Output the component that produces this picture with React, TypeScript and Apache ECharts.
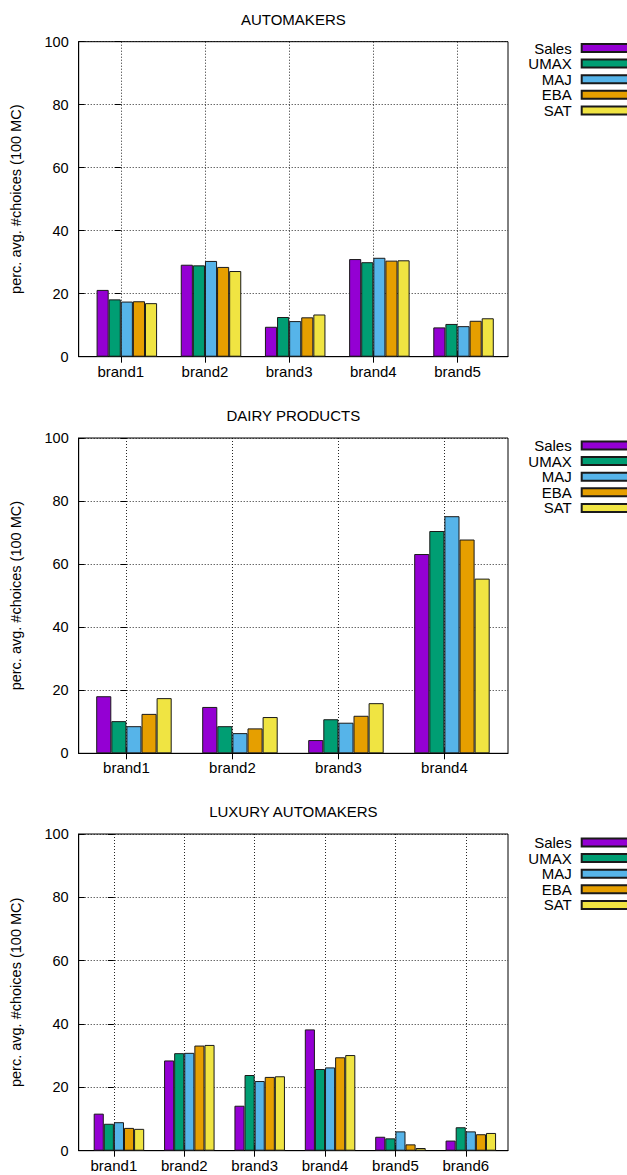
import React, { useEffect, useRef } from 'react';
import * as echarts from 'echarts';

// ---------- data ----------
const SERIES_NAMES = ['Sales', 'UMAX', 'MAJ', 'EBA', 'SAT'];
const COLORS = ['#9400d3', '#009e73', '#56b4e9', '#e69f00', '#f0e442'];
const Y_TICKS_MAX = 100;

const autoBrands = ['brand1', 'brand2', 'brand3', 'brand4', 'brand5'];
const autoSales = [21.2, 29.2, 9.5, 31.0, 9.3];
const autoUmax = [18.2, 29.0, 12.6, 30.0, 10.4];
const autoMaj = [17.5, 30.4, 11.3, 31.4, 9.7];
const autoEba = [17.6, 28.5, 12.5, 30.5, 11.4];
const autoSat = [17.0, 27.2, 13.4, 30.6, 12.2];

const dairyBrands = ['brand1', 'brand2', 'brand3', 'brand4'];
const dairySales = [18.1, 14.7, 4.2, 63.2];
const dairyUmax = [10.2, 8.6, 10.8, 70.5];
const dairyMaj = [8.6, 6.4, 9.7, 75.2];
const dairyEba = [12.5, 7.9, 11.9, 67.8];
const dairySat = [17.5, 11.5, 15.9, 55.4];

const luxBrands = ['brand1', 'brand2', 'brand3', 'brand4', 'brand5', 'brand6'];
const luxSales = [11.7, 28.5, 14.2, 38.3, 4.4, 3.2];
const luxUmax = [8.5, 30.8, 23.9, 25.8, 3.9, 7.4];
const luxMaj = [9.0, 30.9, 22.0, 26.3, 6.1, 6.1];
const luxEba = [7.2, 33.2, 23.3, 29.5, 2.0, 5.2];
const luxSat = [6.9, 33.4, 23.5, 30.2, 0.85, 5.6];

const titles = ['AUTOMAKERS', 'DAIRY PRODUCTS', 'LUXURY AUTOMAKERS'];
const Y_NAME = 'perc. avg. #choices (100 MC)';

// ---------- layout / style ----------
const FONT = '"Liberation Sans", Arial, Helvetica, sans-serif';
const panels = [
  { title: titles[0], cats: autoBrands, values: [autoSales, autoUmax, autoMaj, autoEba, autoSat], top: 41.7, height: 315, xMin: -0.5, xMax: 4.6, barWidth: 12.1, titleY: 19, legendTop: 40.5 },
  { title: titles[1], cats: dairyBrands, values: [dairySales, dairyUmax, dairyMaj, dairyEba, dairySat], top: 438, height: 315.3, xMin: -0.45, xMax: 3.6, barWidth: 15.1, titleY: 415, legendTop: 438 },
  { title: titles[2], cats: luxBrands, values: [luxSales, luxUmax, luxMaj, luxEba, luxSat], top: 834, height: 316.7, xMin: -0.5, xMax: 5.6, barWidth: 10.1, titleY: 811, legendTop: 835 },
];
const GRID_LEFT = 78.7;
const GRID_RIGHT = 627 - 508;
const PLOT_CENTER_X = (78.7 + 508) / 2;

function buildOption() {
  const dotted = { color: '#000', width: 1, type: [1, 2] as any, opacity: 0.85 };
  const grid: any[] = [];
  const xAxis: any[] = [];
  const yAxis: any[] = [];
  const series: any[] = [];
  const legend: any[] = [];
  const graphic: any[] = [];

  panels.forEach((p, g) => {
    const idx = p.cats.map((_, i) => i);
    grid.push({
      left: GRID_LEFT, right: GRID_RIGHT, top: p.top, height: p.height,
      show: true, borderColor: '#000', borderWidth: 1, backgroundColor: 'transparent',
    });
    xAxis.push({
      type: 'value', gridIndex: g, min: p.xMin, max: p.xMax, position: 'bottom',
      axisLine: { show: true, onZero: false, lineStyle: { color: '#000', width: 1 } },
      axisTick: { show: true, inside: true, length: 6, customValues: idx, lineStyle: { color: '#000' } },
      axisLabel: {
        customValues: idx, formatter: (v: number) => p.cats[Math.round(v)] ?? '',
        color: '#000', fontSize: 15, fontFamily: FONT, margin: 7,
      },
      splitLine: { show: true, lineStyle: dotted },
    });
    xAxis.push({
      type: 'value', gridIndex: g, min: p.xMin, max: p.xMax, position: 'top',
      axisLine: { show: false },
      axisTick: { show: true, inside: true, length: 6, customValues: idx, lineStyle: { color: '#000' } },
      axisLabel: { show: false },
      splitLine: { show: false },
    });
    yAxis.push({
      type: 'value', gridIndex: g, min: 0, max: Y_TICKS_MAX, interval: 20, position: 'left',
      name: Y_NAME, nameLocation: 'middle', nameGap: 55,
      nameTextStyle: { color: '#000', fontSize: 14.5, fontFamily: FONT },
      axisLine: { show: true, onZero: false, lineStyle: { color: '#000', width: 1 } },
      axisTick: { show: true, inside: true, length: 6, lineStyle: { color: '#000' } },
      axisLabel: { color: '#000', fontSize: 14.5, fontFamily: FONT, margin: 10 },
      splitLine: { show: true, lineStyle: dotted },
    });
    yAxis.push({
      type: 'value', gridIndex: g, min: 0, max: Y_TICKS_MAX, interval: 20, position: 'right',
      axisLine: { show: false },
      axisTick: { show: true, inside: true, length: 6, lineStyle: { color: '#000' } },
      axisLabel: { show: false },
      splitLine: { show: false },
    });

    // spacer slot so that the group is shifted half a bar right of the tick (as in gnuplot)
    series.push({
      type: 'bar', name: '_spacer' + g, xAxisIndex: 2 * g, yAxisIndex: 2 * g,
      data: [], barWidth: p.barWidth, barGap: '0%', silent: true,
    });
    SERIES_NAMES.forEach((name, s) => {
      series.push({
        type: 'bar', name, xAxisIndex: 2 * g, yAxisIndex: 2 * g,
        data: p.values[s].map((v, i) => [i, v]),
        barWidth: p.barWidth, barGap: '0%',
        itemStyle: { color: COLORS[s], borderColor: '#1a1a1a', borderWidth: 1 },
        emphasis: { disabled: true },
      });
    });

    legend.push({
      data: SERIES_NAMES, orient: 'vertical', align: 'right',
      right: -15.7, top: p.legendTop, padding: 0,
      itemWidth: 60, itemHeight: 8, itemGap: 0.6, icon: 'rect', selectedMode: false,
      textStyle: { color: '#000', fontSize: 15, fontFamily: FONT, padding: [0, 5, 0, 0] },
    });

    graphic.push({
      type: 'text', x: PLOT_CENTER_X, y: p.titleY,
      style: { text: p.title, fill: '#000', fontSize: 15, fontFamily: FONT, align: 'center', verticalAlign: 'middle' },
    });
  });

  return { animation: false, backgroundColor: '#fff', grid, xAxis, yAxis, series, legend, graphic };
}

export default function App() {
  const ref = useRef<HTMLDivElement>(null);
  useEffect(() => {
    const chart = echarts.init(ref.current!, null, { renderer: 'svg' });
    chart.setOption(buildOption() as any);
    return () => chart.dispose();
  }, []);
  return (
    <div
      ref={ref}
      style={{ position: 'absolute', left: 0, top: 0, width: 627, height: 1175, background: '#fff' }}
    />
  );
}
